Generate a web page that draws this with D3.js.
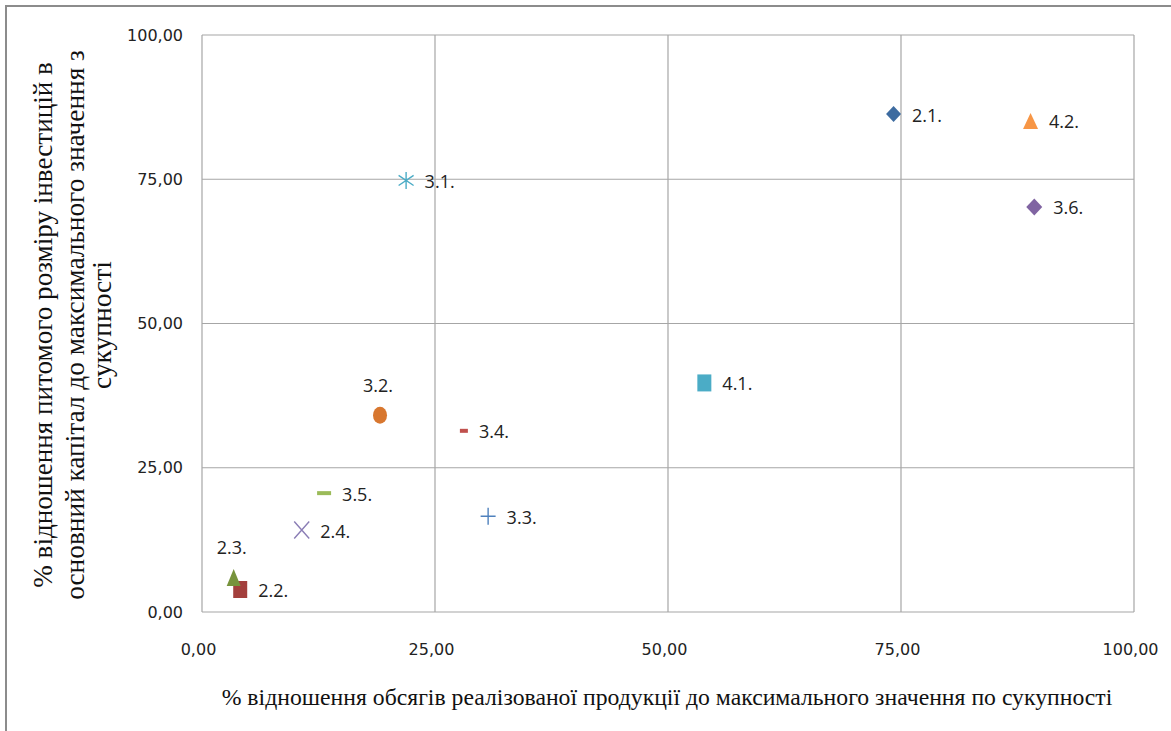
<!DOCTYPE html>
<html>
<head>
<meta charset="utf-8">
<script src="https://cdn.jsdelivr.net/npm/d3@7"></script>
<style>
  body { margin: 0; background: #fff; }
</style>
</head>
<body>
<div id="chart"></div>
<script>
var width = 1171
var height = 731

// data
var labels  = ["2.1.", "2.2.", "2.3.", "2.4.", "3.1.", "3.2.", "3.3.", "3.4.", "3.5.", "3.6.", "4.1.", "4.2."]
var xValues = [74.2, 4.1, 3.4, 10.7, 21.9, 19.1, 30.7, 28.1, 13.1, 89.3, 53.9, 88.9]
var yValues = [86.3, 3.9, 6.0, 14.2, 74.8, 34.1, 16.6, 31.4, 20.6, 70.2, 39.7, 85.1]
var tickValues = [0, 25, 50, 75, 100]

var xTitle = "% відношення обсягів реалізованої продукції до максимального значення по сукупності"
var yTitle = ["% відношення питомого розміру інвестицій в",
              "основний капітал до максимального значення з",
              "сукупності"]

// marker look per point
var style = {
  "2.1.": {shape: "diamond",  color: "#3d6ba0", w: 15, h: 16},
  "2.2.": {shape: "square",   color: "#a33f3c", w: 14, h: 17},
  "2.3.": {shape: "triangle", color: "#77933c", w: 14, h: 17, above: true},
  "2.4.": {shape: "x",        color: "#8a7db5", w: 15, h: 17},
  "3.1.": {shape: "star",     color: "#4bacc6", w: 15, h: 17},
  "3.2.": {shape: "circle",   color: "#d8772f", w: 14, h: 17, above: true},
  "3.3.": {shape: "plus",     color: "#4f81bd", w: 15, h: 17},
  "3.4.": {shape: "dash",     color: "#c0504d", w: 8,  h: 4},
  "3.5.": {shape: "dash",     color: "#9bbb59", w: 14, h: 4},
  "3.6.": {shape: "diamond",  color: "#8064a2", w: 16, h: 17},
  "4.1.": {shape: "square",   color: "#4bacc6", w: 14, h: 17},
  "4.2.": {shape: "triangle", color: "#f79646", w: 15, h: 16}
}

var points = labels.map(function(l, i) { return {label: l, x: xValues[i], y: yValues[i]} })

var svg = d3.select("#chart")
    .append("svg")
    .attr("width", width)
    .attr("height", height)

// outer chart frame (runs off the right and bottom of the picture)
svg.append("rect")
    .attr("x", 6).attr("y", 6)
    .attr("width", width + 20).attr("height", height + 20)
    .attr("fill", "none")
    .attr("stroke", "#8c8c8c")
    .attr("stroke-width", 2)

var x = d3.scaleLinear().domain([0, 100]).range([202, 1134])
var y = d3.scaleLinear().domain([0, 100]).range([612, 35])

var fmt = function(d) { return d3.format(".2f")(d).replace(".", ",") }

// gridlines
svg.append("g").selectAll("line")
    .data(tickValues)
    .enter().append("line")
    .attr("x1", function(d) { return x(d) }).attr("x2", function(d) { return x(d) })
    .attr("y1", y(0)).attr("y2", y(100))
    .attr("stroke", "#a6a6a6").attr("stroke-width", 1.2)

svg.append("g").selectAll("line")
    .data(tickValues)
    .enter().append("line")
    .attr("x1", x(0)).attr("x2", x(100))
    .attr("y1", function(d) { return y(d) }).attr("y2", function(d) { return y(d) })
    .attr("stroke", "#a6a6a6").attr("stroke-width", 1.2)

var serif = "'Liberation Serif', 'DejaVu Serif', 'Times New Roman', serif"
var tickFont = "'DejaVu Sans', Verdana, sans-serif"

// axes: labels only, lines are the gridlines above
var xAxis = svg.append("g")
    .attr("transform", "translate(-4," + 649 + ")")
    .call(d3.axisBottom(x).tickValues(tickValues).tickFormat(fmt).tickSize(0).tickPadding(0))
xAxis.select(".domain").remove()
xAxis.selectAll("text")
    .attr("dy", "0.36em")
    .style("font-family", tickFont)
    .style("font-size", "16px")
    .attr("fill", "#222")

var yAxis = svg.append("g")
    .attr("transform", "translate(183,0)")
    .call(d3.axisLeft(y).tickValues(tickValues).tickFormat(fmt).tickSize(0).tickPadding(0))
yAxis.select(".domain").remove()
yAxis.selectAll("text")
    .style("font-family", tickFont)
    .style("font-size", "16px")
    .attr("fill", "#222")

// fit a title to the length it has in the picture by picking its font size
function fitText(sel, target) {
  var len = sel.node().getComputedTextLength()
  var size = parseFloat(sel.style("font-size"))
  sel.style("font-size", (size * target / len) + "px")
}

// axis titles
var xt = svg.append("text")
    .attr("x", 667).attr("y", 705)
    .attr("text-anchor", "middle")
    .style("font-family", serif)
    .style("font-size", "22px")
    .attr("fill", "#111")
    .text(xTitle)
fitText(xt, 891)

var yTitleX = [52, 84, 111]
var yTitleLen = [526, 550, 128]
yTitle.forEach(function(t, i) {
  var yt = svg.append("text")
      .attr("transform", "translate(" + yTitleX[i] + ",325) rotate(-90)")
      .attr("text-anchor", "middle")
      .style("font-family", serif)
      .style("font-size", "22px")
      .attr("fill", "#111")
      .text(t)
  fitText(yt, yTitleLen[i])
})

function markerPath(s) {
  var w = s.w / 2, h = s.h / 2
  switch (s.shape) {
    case "diamond":  return "M0," + (-h) + "L" + w + ",0L0," + h + "L" + (-w) + ",0Z"
    case "square":
    case "dash":     return "M" + (-w) + "," + (-h) + "H" + w + "V" + h + "H" + (-w) + "Z"
    case "triangle": return "M0," + (-h) + "L" + w + "," + h + "H" + (-w) + "Z"
    case "circle":   return "M" + (-w) + ",0A" + w + "," + h + " 0 1,0 " + w + ",0A" + w + "," + h + " 0 1,0 " + (-w) + ",0Z"
    case "x":        return "M" + (-w) + "," + (-h) + "L" + w + "," + h + "M" + w + "," + (-h) + "L" + (-w) + "," + h
    case "plus":     return "M" + (-w) + ",0H" + w + "M0," + (-h) + "V" + h
    case "star":     return "M0," + (-h) + "V" + h + "M" + (-w) + "," + (-h * 0.6) + "L" + w + "," + (h * 0.6) +
                            "M" + w + "," + (-h * 0.6) + "L" + (-w) + "," + (h * 0.6)
  }
}

var lineShapes = ["x", "plus", "star"]

var pts = svg.append("g").selectAll("g")
    .data(points)
    .enter().append("g")
    .attr("transform", function(d) { return "translate(" + x(d.x) + "," + y(d.y) + ")" })

pts.append("path")
    .attr("d", function(d) { return markerPath(style[d.label]) })
    .attr("fill", function(d) { return lineShapes.indexOf(style[d.label].shape) >= 0 ? "none" : style[d.label].color })
    .attr("stroke", function(d) { return lineShapes.indexOf(style[d.label].shape) >= 0 ? style[d.label].color : "none" })
    .attr("stroke-width", 1.4)

pts.append("text")
    .attr("x", function(d) { return style[d.label].above ? -2 : style[d.label].w / 2 + 11 })
    .attr("y", function(d) { return style[d.label].above ? -30 : 1 })
    .attr("dy", "0.36em")
    .attr("text-anchor", function(d) { return style[d.label].above ? "middle" : "start" })
    .style("font-family", "'Open Sans', sans-serif")
    .style("font-size", "18px")
    .attr("fill", "#222")
    .text(function(d) { return d.label })
</script>
</body>
</html>
